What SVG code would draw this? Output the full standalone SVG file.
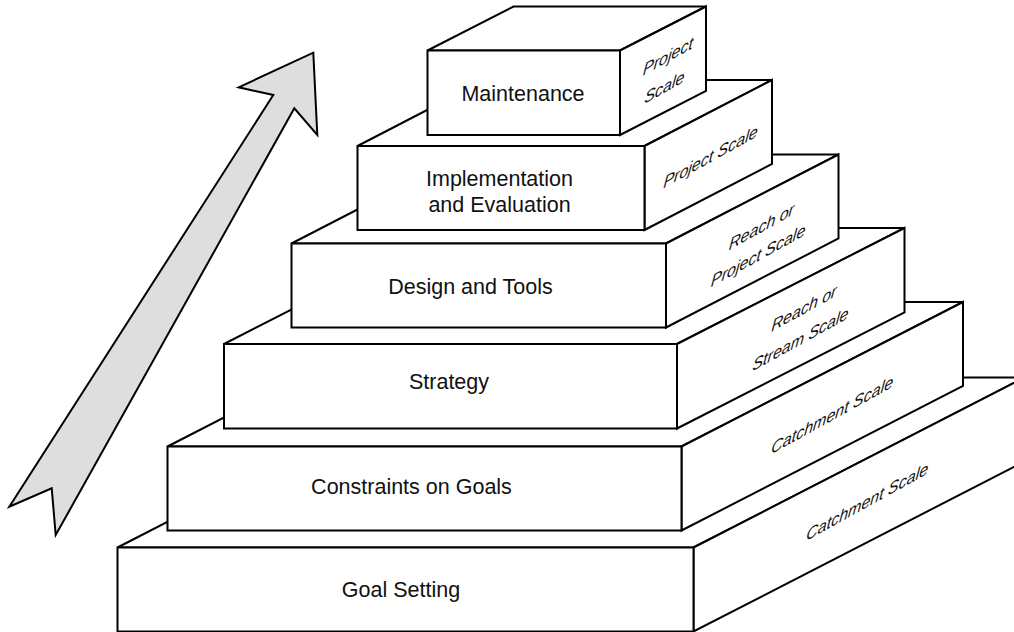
<svg xmlns="http://www.w3.org/2000/svg" width="1014" height="632" viewBox="0 0 1014 632">
<style>
.f{fill:#fff;stroke:#000;stroke-width:2;stroke-linejoin:miter}
.lbl{font-family:"Liberation Sans",Arial,sans-serif;font-size:21.5px;fill:#111;text-anchor:middle}
.sc{font-family:"Liberation Sans",Arial,sans-serif;font-size:16px;font-style:italic;fill:#111;text-anchor:middle}
.arr{fill:#dedede;stroke:#000;stroke-width:2;stroke-linejoin:miter}
</style>
<rect width="1014" height="632" fill="#fff"/>
<g id="connectors">
<polygon class="arr" points="313.3,52.7 317.3,135 294.3,108.3 55.7,535 51.7,488.3 9.3,506.7 273.3,95 238.7,87.3"/>
</g>
<g id="goal-setting">
<polygon class="f" points="117.5,547.5 448.5,377.5 1024.5,377.5 693.5,547.5"/>
<polygon class="f" points="693.5,547.5 1024.5,377.5 1024.5,461.5 693.5,631.5"/>
<rect class="f" x="117.5" y="547.5" width="576" height="84"/>
<text class="lbl" x="401" y="597">Goal Setting</text>
<text class="sc" transform="translate(866.7,507.4) skewY(-29) skewX(-7)">Catchment Scale</text>
</g>
<g id="constraints">
<polygon class="f" points="167.5,446.5 449,302 963,302 681.5,446.5"/>
<polygon class="f" points="681.5,446.5 963,302 963,386 681.5,530.5"/>
<rect class="f" x="167.5" y="446.5" width="514" height="84"/>
<text class="lbl" x="411.5" y="493.5">Constraints on Goals</text>
<text class="sc" transform="translate(831.7,420.7) skewY(-29) skewX(-7)">Catchment Scale</text>
</g>
<g id="strategy">
<polygon class="f" points="224,344 451.5,228 904.5,228 677,344"/>
<polygon class="f" points="677,344 904.5,228 904.5,312.5 677,428.5"/>
<rect class="f" x="224" y="344" width="453" height="84.5"/>
<text class="lbl" x="449" y="388.5">Strategy</text>
<text class="sc" transform="translate(803.5,314) skewY(-29) skewX(-7)"><tspan x="0" y="0">Reach or</tspan><tspan x="0" y="29">Stream Scale</tspan></text>
</g>
<g id="design-tools">
<polygon class="f" points="291.5,243.5 464,154.5 838.5,154.5 666,243.5"/>
<polygon class="f" points="666,243.5 838.5,154.5 838.5,238.5 666,327.5"/>
<rect class="f" x="291.5" y="243.5" width="374.5" height="84"/>
<text class="lbl" x="470.5" y="294">Design and Tools</text>
<text class="sc" transform="translate(761,232.4) skewY(-29) skewX(-7)"><tspan x="0" y="0">Reach or</tspan><tspan x="0" y="27">Project Scale</tspan></text>
</g>
<g id="implementation">
<polygon class="f" points="357.5,146 485,80 772,80 644.5,146"/>
<polygon class="f" points="644.5,146 772,80 772,164 644.5,230"/>
<rect class="f" x="357.5" y="146" width="287" height="84"/>
<text class="lbl" x="499.5" y="186">Implementation</text>
<text class="lbl" x="499.5" y="211.5">and Evaluation</text>
<text class="sc" transform="translate(710,162.5) skewY(-29) skewX(-7)">Project Scale</text>
</g>
<g id="maintenance">
<polygon class="f" points="427.5,50.5 513.5,6.5 706,6.5 620,50.5"/>
<polygon class="f" points="620,50.5 706,6.5 706,91 620,135"/>
<rect class="f" x="427.5" y="50.5" width="192.5" height="84.5"/>
<text class="lbl" x="523" y="100.5">Maintenance</text>
<text class="sc" transform="translate(667.5,62) skewY(-29) skewX(-7)"><tspan x="0" y="0">Project</tspan><tspan x="0" y="29">Scale</tspan></text>
</g>
</svg>
